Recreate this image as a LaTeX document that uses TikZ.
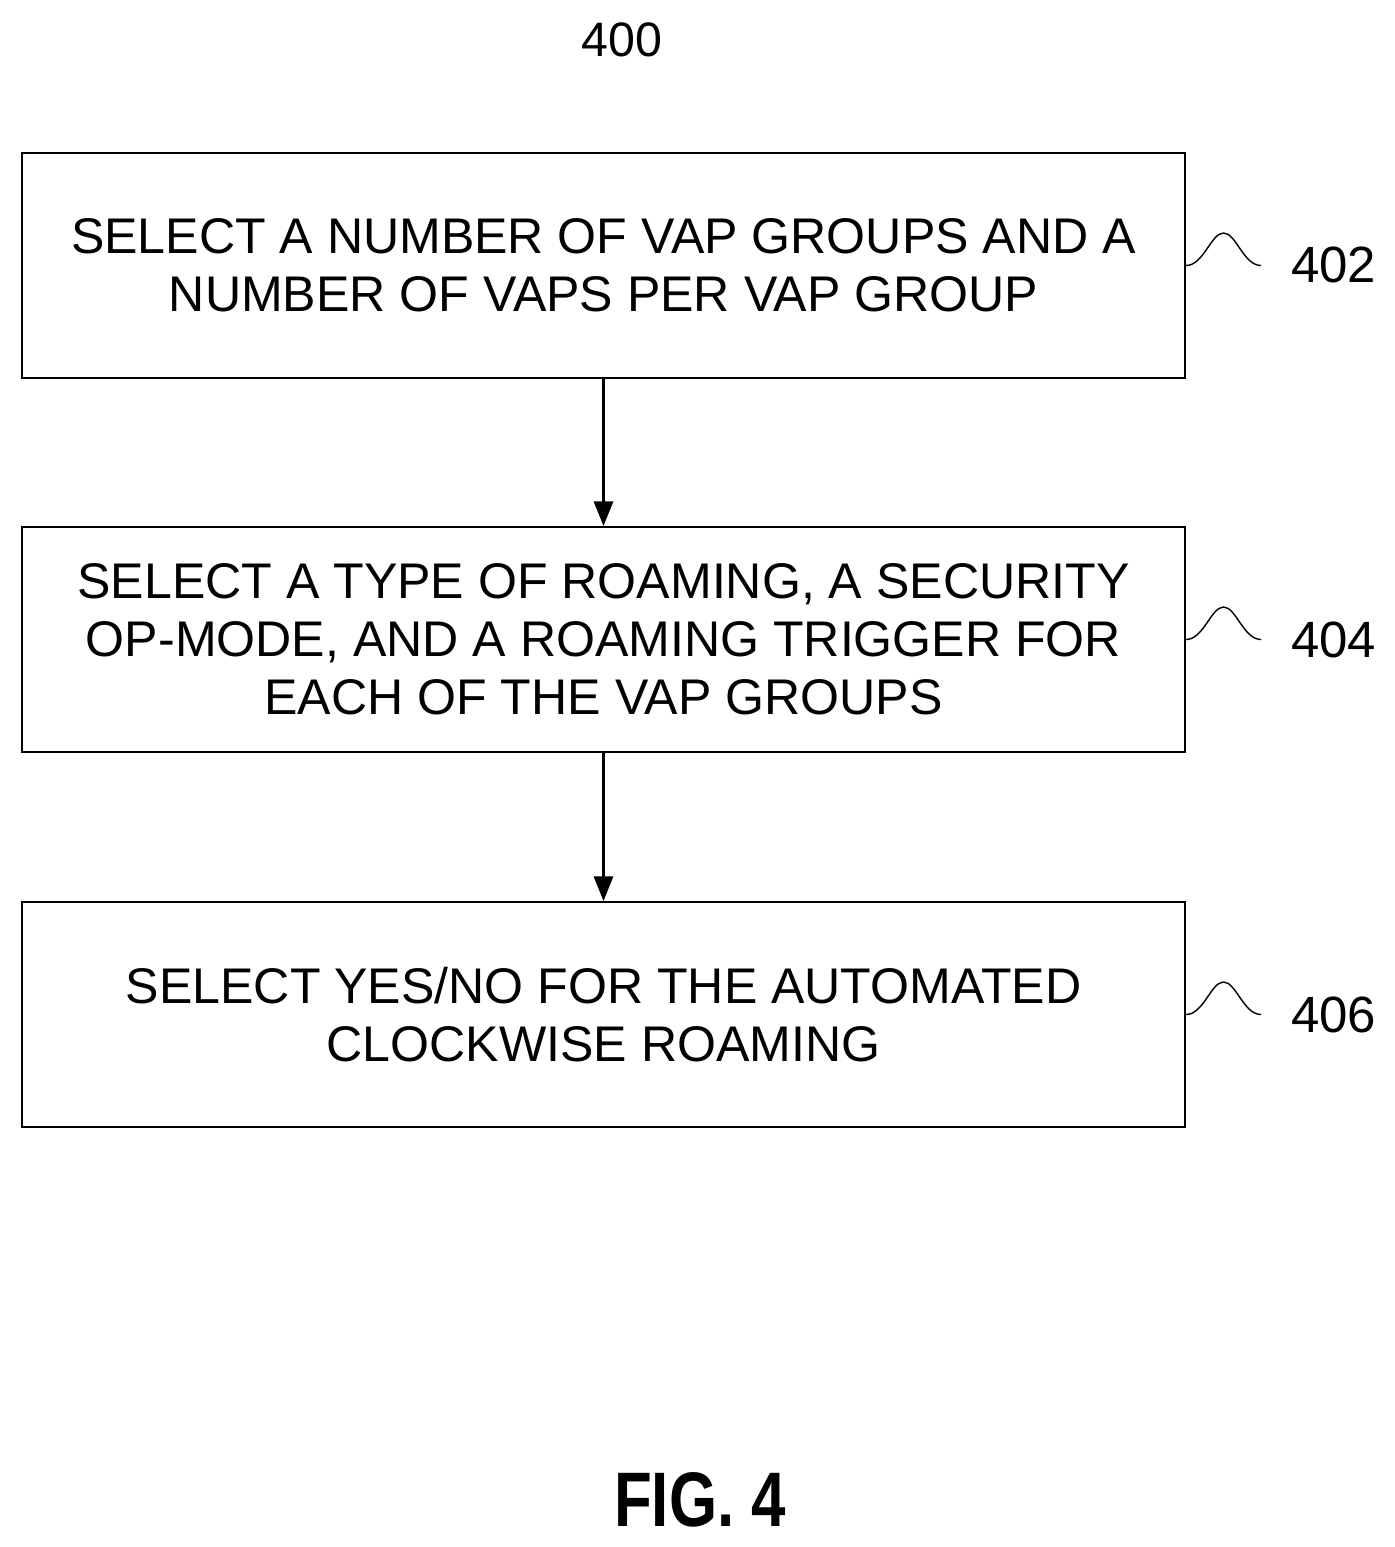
\documentclass[tikz,border=0pt]{standalone}
\usepackage{fontspec}
\setmainfont{Liberation Sans}
\usetikzlibrary{arrows.meta}
\usetikzlibrary{positioning}
\tikzset{
  stepbox/.style={draw=black, line width=1.2pt, minimum width=23.26cm, minimum height=4.5cm,
    align=center, font=\fontsize{28.5}{33}\selectfont, inner sep=0pt},
  ref/.style={font=\fontsize{29}{33}\selectfont, anchor=west},
  flow/.style={-{Triangle[length=14pt,width=11pt]}, line width=1.2pt}
}
\begin{document}
\begin{tikzpicture}
    \useasboundingbox (0,0) rectangle (27.88,-30.94);
    \node[font=\fontsize{27.5}{33}\selectfont] (T) at (12.44,-0.8) {400};
    \node[stepbox] (A) at (12.07,-5.31) {SELECT A NUMBER OF VAP GROUPS AND A\\NUMBER OF VAPS PER VAP GROUP};
    \node[stepbox] (B) at (12.07,-12.79) {SELECT A TYPE OF ROAMING, A SECURITY\\OP-MODE, AND A ROAMING TRIGGER FOR\\EACH OF THE VAP GROUPS};
    \node[stepbox] (C) at (12.07,-20.29) {SELECT YES/NO FOR THE AUTOMATED\\CLOCKWISE ROAMING};
    \node[ref] (RA) at (25.7,-5.3) {402};
    \node[ref] (RB) at (25.7,-12.8) {404};
    \node[ref] (RC) at (25.7,-20.3) {406};
    \draw[flow] (A) -- (B);
    \draw[flow] (B) -- (C);
    % squiggles from box edge to reference numbers
    \foreach \b in {A, B, C}
      \draw[line width=0.8pt] (\b.east) .. controls ++(0.35,0) and ++(-0.25,0) .. ++(0.75,0.65)
        .. controls ++(0.25,0) and ++(-0.35,0) .. ++(0.75,-0.65);
    \node[font=\bfseries\fontsize{44}{50}\selectfont, xscale=0.8] (F) at (14.0,-30.0) {FIG. 4};
\end{tikzpicture}
\end{document}
